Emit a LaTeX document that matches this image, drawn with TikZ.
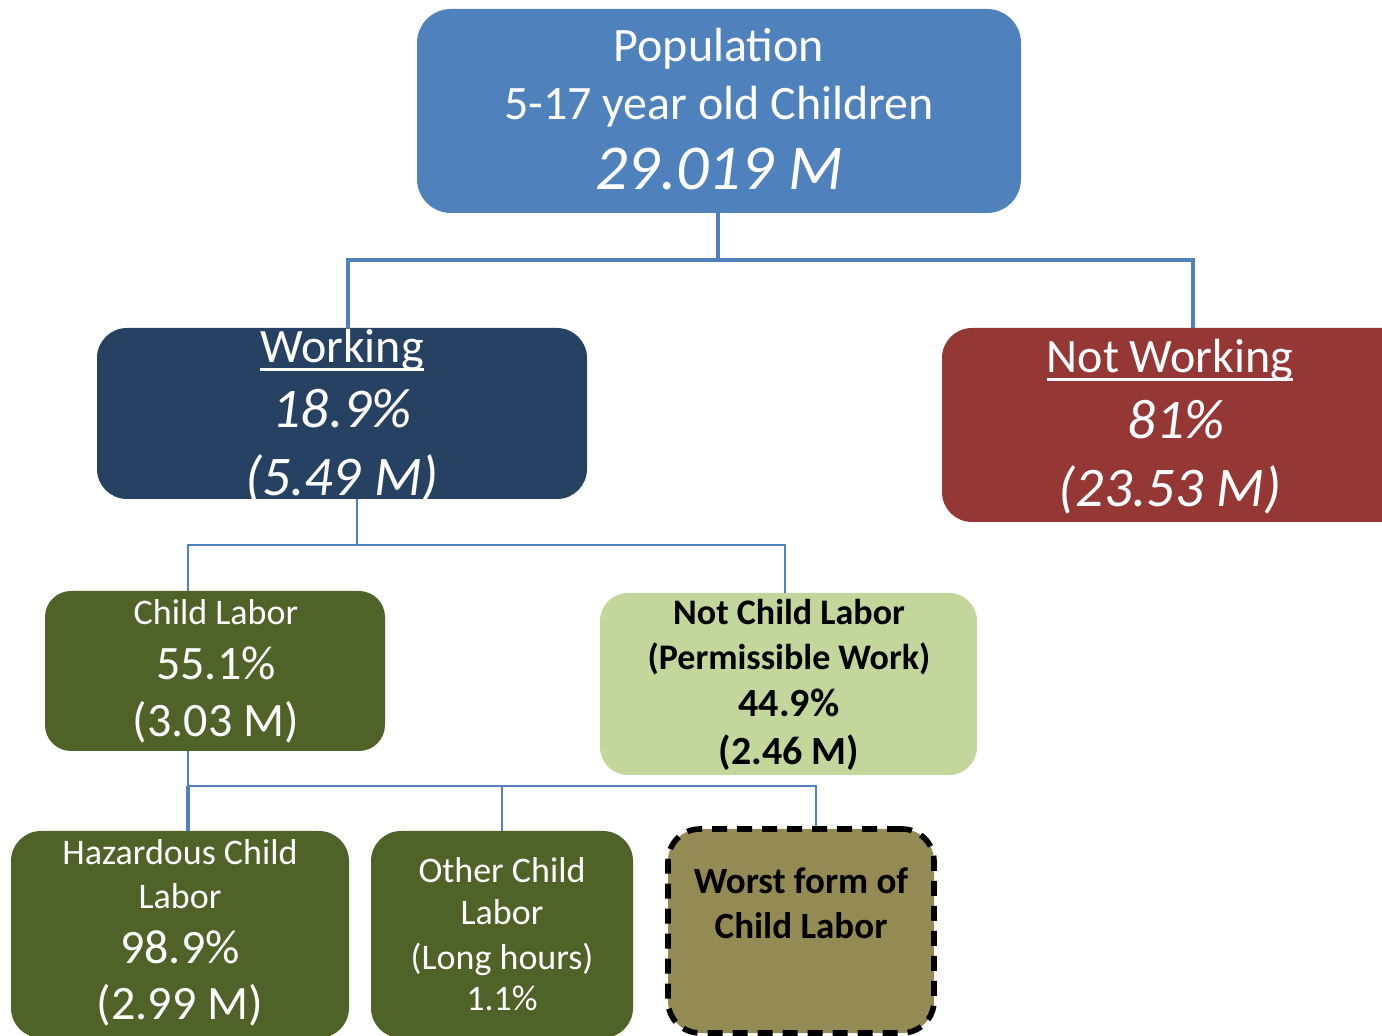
\documentclass[tikz,border=0pt]{standalone}
\usepackage{fontspec}
\setmainfont{Carlito}
\definecolor{popblue}{HTML}{4F81BD}
\definecolor{worknavy}{HTML}{274163}
\definecolor{notred}{HTML}{953735}
\definecolor{clgreen}{HTML}{4F6228}
\definecolor{nclgreen}{HTML}{C3D69B}
\definecolor{worstolive}{HTML}{948A54}
\newcommand{\ulbox}[1]{\setbox0\hbox{#1}\rlap{\rule[-4pt]{\wd0}{1.4pt}}\box0}
\newcommand{\fs}[1]{\fontsize{#1}{#1}\selectfont}
\tikzset{
  box/.style={rectangle, rounded corners=#1, inner sep=0pt, draw=none},
  box/.default=15pt,
  tw/.style={anchor=base, inner sep=0pt, text=white},
  tb/.style={anchor=base, inner sep=0pt, text=black},
  conn/.style={draw=popblue, line width=#1},
  conn/.default=1.3pt,
}
\begin{document}
\begin{tikzpicture}[x=0.5pt,y=-0.5pt]
\useasboundingbox (0,0) rectangle (1382,1036);
% boxes
\node[box=17pt, fill=popblue, minimum width=302pt, minimum height=102pt] (pop) at (719,111) {};
\node[box=15pt, fill=worknavy, minimum width=245pt, minimum height=85.5pt] (work) at (342,413.5) {};
\node[box=15pt, fill=notred, minimum width=251pt, minimum height=97pt] (notw) at (1193,425) {};
\node[box=13pt, fill=clgreen, minimum width=170pt, minimum height=80pt] (cl) at (215,671) {};
\node[box=14pt, fill=nclgreen, minimum width=188.5pt, minimum height=91pt] (ncl) at (788.5,684) {};
\node[box=15pt, fill=clgreen, minimum width=169pt, minimum height=103.5pt] (haz) at (180,934.5) {};
\node[box=15pt, fill=clgreen, minimum width=131pt, minimum height=103.5pt] (oth) at (502,934.5) {};
\node[box=16pt, fill=worstolive, draw=black, line width=2.8pt, dash pattern=on 7.5pt off 5pt, minimum width=133pt, minimum height=102pt] (worst) at (801,931) {};
% texts
\node[tw] (pop1) at (719,62) {\fs{24}Population};
\node[tw] (pop2) at (719,120) {\fs{24}5-17 year old Children};
\node[tw] (pop3) at (719,190) {\fs{32}\itshape 29.019 M};
\node[tw] (work1) at (342,363) {\fs{24}\ulbox{Working}};
\node[tw] (work2) at (342,428) {\fs{28}\itshape 18.9\%};
\node[tw] (work3) at (342,496) {\fs{28}\itshape (5.49 M)};
\node[tw] (notw1) at (1170,373) {\fs{24}\ulbox{Not Working}};
\node[tw] (notw2) at (1176,439) {\fs{28}\itshape 81\%};
\node[tw] (notw3) at (1170,507) {\fs{28}\itshape (23.53 M)};
\node[tw] (cl1) at (216,625) {\fs{18}Child Labor};
\node[tw] (cl2) at (216,680) {\fs{24}55.1\%};
\node[tw] (cl3) at (216,737) {\fs{24}(3.03 M)};
\node[tb] (ncl1) at (789,625) {\fs{18}\bfseries Not Child Labor};
\node[tb] (ncl2) at (789,670) {\fs{18}\bfseries (Permissible Work)};
\node[tb] (ncl3) at (789,717) {\fs{20}\bfseries 44.9\%};
\node[tb] (ncl4) at (789,765) {\fs{20}\bfseries (2.46 M)};
\node[tw] (haz1) at (180,865) {\fs{18}Hazardous Child};
\node[tw] (haz2) at (180,909) {\fs{18}Labor};
\node[tw] (haz3) at (180,964) {\fs{24}98.9\%};
\node[tw] (haz4) at (180,1019) {\fs{24}(2.99 M)};
\node[tw] (oth1) at (502,883) {\fs{18}Other Child};
\node[tw] (oth2) at (502,925) {\fs{18}Labor};
\node[tw] (oth3) at (502,970) {\fs{18}(Long hours)};
\node[tw] (oth4) at (502,1010) {\fs{18}1.1\%};
\node[tb] (worst1) at (801,893) {\fs{18.5}\bfseries Worst form of};
\node[tb] (worst2) at (801,938) {\fs{18.5}\bfseries Child Labor};
% connectors
\coordinate (j1) at (718,260);
\coordinate (j2) at (357,545);
\coordinate (j3) at (188,786);
\draw[conn=2pt] ([xshift=-0.5pt]pop.south) -- ([xshift=-0.5pt]pop.south |- j1);
\draw[conn=2pt] ([xshift=3pt]work.north) -- ([xshift=3pt]work.north |- j1) -- (notw.north |- j1) -- (notw.north);
\draw[conn=1.3pt] ([xshift=7.5pt]work.south) -- (j2);
\draw[conn=1.3pt] ([xshift=-13.5pt]cl.north) -- ([xshift=-13.5pt]cl.north |- j2) -- ([xshift=-1.75pt]ncl.north |- j2) -- ([xshift=-1.75pt]ncl.north);
\draw[conn=1.3pt] ([xshift=-13.5pt]cl.south) -- (j3);
\draw[conn=1.6pt] ([xshift=4pt]haz.north) -- ([xshift=4pt]haz.north |- j3);
\draw[conn=1.2pt] (j3) -- ([xshift=7.5pt]worst.north |- j3) -- ([xshift=7.5pt]worst.north);
\draw[conn=0.9pt] (oth.north) -- (oth.north |- j3);
\end{tikzpicture}
\end{document}
